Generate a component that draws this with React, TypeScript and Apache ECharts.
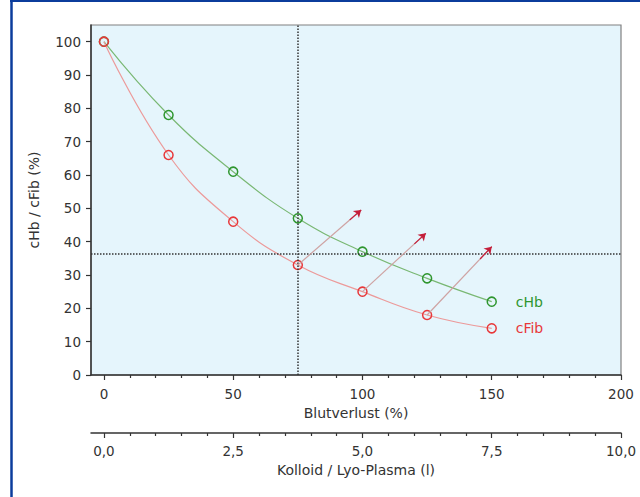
import React, { useEffect, useRef } from "react";
import * as echarts from "echarts";

const bloodLoss = [0, 25, 50, 75, 100, 125, 150];
const cHb = [100, 78, 61, 47, 37, 29, 22];
const cFib = [100, 66, 46, 33, 25, 18, 14];
const arrowFrom = [[75, 33], [100, 25], [125, 18]];
const arrowTo = [[99.5, 49.5], [124.5, 42.5], [150, 38.5]];
const refX = 75;
const refY = 36.5;
const xMajor = [0, 50, 100, 150, 200];
const xMinor = [10, 20, 30, 40, 60, 70, 80, 90, 110, 120, 130, 140, 160, 170, 180, 190];
const yTicks = [0, 10, 20, 30, 40, 50, 60, 70, 80, 90, 100];
const vMajor = [0, 2.5, 5, 7.5, 10];
const vMinor = [0.5, 1, 1.5, 2, 3, 3.5, 4, 4.5, 5.5, 6, 6.5, 7, 8, 8.5, 9, 9.5];

const FONT = "'DejaVu Sans', sans-serif";
const TXT = "#333";
const FS = 13.5;

export default function App() {
  const ref = useRef<HTMLDivElement>(null);
  useEffect(() => {
    if (!ref.current) return;
    const chart = echarts.init(ref.current, undefined, { renderer: "svg" });

    const arrowData: any[] = [];
    arrowFrom.forEach((f, i) => {
      const t = arrowTo[i];
      arrowData.push([
        { coord: f, symbol: "none", lineStyle: { color: "#cfa3a3", width: 1.2, type: "solid" } },
        { coord: t, symbol: "none" },
      ]);
      const s = [f[0] + 0.82 * (t[0] - f[0]), f[1] + 0.82 * (t[1] - f[1])];
      arrowData.push([
        { coord: s, symbol: "none", lineStyle: { color: "#c41e3a", width: 1.2, type: "solid" } },
        { coord: t, symbol: "arrow" },
      ]);
    });

    const baseAxis = {
      type: "value",
      gridIndex: 0,
      position: "bottom",
      min: -5,
      max: 200,
      splitLine: { show: false },
    };
    const volAxis = {
      type: "value",
      gridIndex: 0,
      position: "bottom",
      offset: 58,
      min: -0.25,
      max: 10,
      splitLine: { show: false },
    };
    const lineStyle = { color: "#333", width: 1.5 };
    const tickStyle = { color: "#333", width: 1.2 };

    chart.setOption({
      animation: false,
      backgroundColor: "#ffffff",
      textStyle: { fontFamily: FONT },
      grid: {
        left: 91,
        right: 19,
        top: 25,
        bottom: 122,
        show: true,
        backgroundColor: "#e5f5fc",
        borderColor: "#808080",
        borderWidth: 1.2,
      },
      xAxis: [
        {
          ...baseAxis,
          name: "Blutverlust (%)",
          nameLocation: "middle",
          nameGap: 30,
          nameTextStyle: { fontSize: 14, color: TXT, fontFamily: FONT },
          axisLine: { show: true, onZero: false, lineStyle },
          axisTick: { show: true, length: 5, customValues: xMajor, lineStyle: tickStyle },
          axisLabel: { customValues: xMajor, fontSize: FS, color: TXT, margin: 12, fontFamily: FONT },
        },
        {
          ...baseAxis,
          axisLine: { show: false, onZero: false },
          axisTick: { show: true, length: 3, customValues: xMinor, lineStyle: tickStyle },
          axisLabel: { show: false },
        },
        {
          ...volAxis,
          name: "Kolloid / Lyo-Plasma (l)",
          nameLocation: "middle",
          nameGap: 30,
          nameTextStyle: { fontSize: 14, color: TXT, fontFamily: FONT },
          axisLine: { show: true, onZero: false, lineStyle },
          axisTick: { show: true, length: 5, customValues: vMajor, lineStyle: tickStyle },
          axisLabel: {
            customValues: vMajor,
            fontSize: FS,
            color: TXT,
            margin: 11,
            fontFamily: FONT,
            formatter: (v: number) => v.toFixed(1).replace(".", ","),
          },
        },
        {
          ...volAxis,
          axisLine: { show: false, onZero: false },
          axisTick: { show: true, length: 3, customValues: vMinor, lineStyle: tickStyle },
          axisLabel: { show: false },
        },
      ],
      yAxis: {
        type: "value",
        min: 0,
        max: 105,
        name: "cHb / cFib (%)",
        nameLocation: "middle",
        nameGap: 50,
        nameTextStyle: { fontSize: 14, color: TXT, fontFamily: FONT },
        splitLine: { show: false },
        axisLine: { show: true, onZero: false, lineStyle },
        axisTick: { show: true, length: 5, customValues: yTicks, lineStyle: tickStyle },
        axisLabel: { customValues: yTicks, fontSize: FS, color: TXT, margin: 10, fontFamily: FONT },
      },
      graphic: [
        { type: "line", shape: { x1: 10, y1: 1, x2: 640, y2: 1 }, style: { stroke: "#0b3c9c", lineWidth: 2 } },
        { type: "line", shape: { x1: 11.5, y1: 0, x2: 11.5, y2: 497 }, style: { stroke: "#0b3c9c", lineWidth: 2.5 } },
      ],
      series: [
        {
          type: "line",
          name: "cHb",
          xAxisIndex: 0,
          data: bloodLoss.map((x, i) => [x, cHb[i]]),
          smooth: 0.45,
          symbol: "circle",
          symbolSize: 9,
          itemStyle: { color: "rgba(0,0,0,0)", borderColor: "#2f962f", borderWidth: 1.5 },
          lineStyle: { color: "#7ab874", width: 1.2 },
          endLabel: { show: true, formatter: "cHb", color: "#2f962f", fontSize: 14, distance: 24, fontFamily: FONT },
          markLine: {
            silent: true,
            symbol: "none",
            label: { show: false },
            lineStyle: { type: "dotted", color: "#333", width: 1.5 },
            data: [{ xAxis: refX }, { yAxis: refY }],
          },
          z: 2,
        },
        {
          type: "line",
          name: "cFib",
          xAxisIndex: 0,
          data: bloodLoss.map((x, i) => [x, cFib[i]]),
          smooth: 0.45,
          symbol: "circle",
          symbolSize: 9,
          itemStyle: { color: "rgba(0,0,0,0)", borderColor: "#e8383a", borderWidth: 1.5 },
          lineStyle: { color: "#ec9a9a", width: 1.2 },
          endLabel: { show: true, formatter: "cFib", color: "#e8383a", fontSize: 14, distance: 24, fontFamily: FONT },
          markLine: {
            silent: true,
            symbolSize: 7,
            label: { show: false },
            data: arrowData,
          },
          z: 3,
        },
      ],
    });
    return () => chart.dispose();
  }, []);
  return (
    <div
      ref={ref}
      style={{ position: "fixed", left: 0, top: 0, width: 640, height: 497, background: "#fff" }}
    />
  );
}
